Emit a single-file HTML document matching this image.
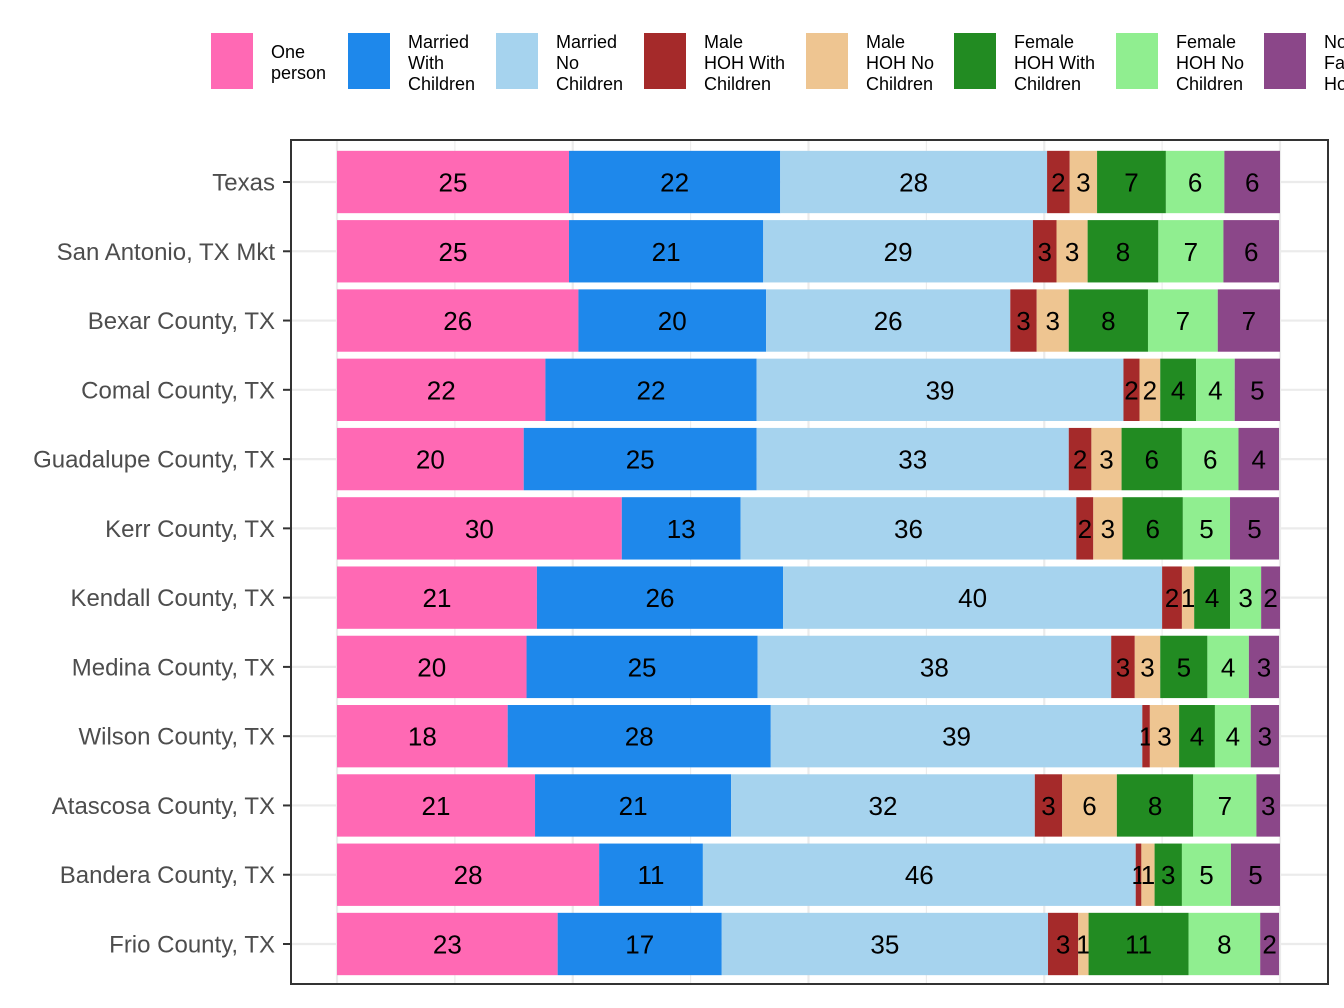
<!DOCTYPE html>
<html><head><meta charset="utf-8"><style>
body{margin:0;background:#fff;}
svg{display:block;font-family:"Liberation Sans",Arial,sans-serif;}
</style></head><body>
<svg id="chart" width="1344" height="1008" viewBox="0 0 1344 1008">
<g id="legend"></g>
<rect x="291" y="140" width="1037" height="844" fill="#fff"/>
<g id="grid"></g>
<g id="bars"></g>
<g id="yaxis"></g>
<rect x="291" y="140" width="1037" height="844" fill="none" stroke="#333" stroke-width="2"/>
</svg>
<script>
const categories = ["Texas","San Antonio, TX Mkt","Bexar County, TX","Comal County, TX","Guadalupe County, TX","Kerr County, TX","Kendall County, TX","Medina County, TX","Wilson County, TX","Atascosa County, TX","Bandera County, TX","Frio County, TX"];
const seriesNames = ["One person","Married With Children","Married No Children","Male HOH With Children","Male HOH No Children","Female HOH With Children","Female HOH No Children","Non Family Households"];
const legendLines = [["One","person"],["Married","With","Children"],["Married","No","Children"],["Male","HOH With","Children"],["Male","HOH No","Children"],["Female","HOH With","Children"],["Female","HOH No","Children"],["Non","Family","Households"]];
const colors = ["#FF69B4","#1E88EB","#A6D3EE","#A52A2A","#EEC591","#228B22","#90EE90","#8B4789"];
const onePerson   = [24.6,24.6,25.6,22.1,19.8,30.2,21.2,20.1,18.1,21.0,27.8,23.4];
const marriedWith = [22.4,20.6,19.9,22.4,24.7,12.6,26.1,24.5,27.9,20.8,11.0,17.4];
const marriedNo   = [28.3,28.6,25.9,38.9,33.1,35.6,40.2,37.5,39.4,32.2,45.9,34.6];
const maleWith    = [2.4,2.5,2.8,1.7,2.4,1.8,2.1,2.5,0.8,2.9,0.6,3.2];
const maleNo      = [2.9,3.3,3.4,2.2,3.2,3.1,1.3,2.7,3.1,5.8,1.4,1.1];
const femaleWith  = [7.3,7.5,8.4,3.8,6.4,6.4,3.8,5.0,3.8,8.1,2.9,10.6];
const femaleNo    = [6.2,6.9,7.4,4.1,6.0,5.0,3.3,4.4,3.8,6.7,5.2,7.6];
const nonFamily   = [5.9,5.9,6.6,4.8,4.3,5.2,2.0,3.2,3.0,2.5,5.2,2.0];
const series = [onePerson,marriedWith,marriedNo,maleWith,maleNo,femaleWith,femaleNo,nonFamily];
const xTicks = [0,12.5,25,37.5,50,62.5,75,87.5,100];

const NS="http://www.w3.org/2000/svg";
function mk(tag,attrs,parent){const e=document.createElementNS(NS,tag);for(const k in attrs)e.setAttribute(k,attrs[k]);parent.appendChild(e);return e;}
const x0=337,x1=1280;
function xScale(v){return x0+(x1-x0)*v/100;}
const band=(944-182)/11;
function yScale(i){return 182+i*band;}
const barH=band*0.9;

const grid=document.getElementById('grid');
xTicks.forEach(t=>{const l=mk('line',{x1:xScale(t),x2:xScale(t),y1:140,y2:984,stroke:'#ebebeb','stroke-width':t%25===0?2.2:1.1},grid);

});
categories.forEach((c,i)=>{const l=mk('line',{x1:291,x2:1328,y1:yScale(i),y2:yScale(i),stroke:'#ebebeb','stroke-width':2.2},grid);

});

const bars=document.getElementById('bars');
categories.forEach((c,i)=>{
  let cum=0;
  series.forEach((s,j)=>{
    const v=s[i];const xa=xScale(cum),xb=xScale(cum+v);cum+=v;
    const r=mk('rect',{x:xa,y:yScale(i)-barH/2,width:xb-xa,height:barH,fill:colors[j]},bars);
    
    
    const t=mk('text',{x:(xa+xb)/2,y:yScale(i)+9.5,'text-anchor':'middle','font-size':26,fill:'#000'},bars);
    t.textContent=Math.round(v);
    
    
  });
});

const ya=document.getElementById('yaxis');
categories.forEach((c,i)=>{
  const tk=mk('line',{x1:283,x2:291,y1:yScale(i),y2:yScale(i),stroke:'#333','stroke-width':2},ya);
  
  
  const t=mk('text',{x:275,y:yScale(i)+8.5,'text-anchor':'end','font-size':24,fill:'#4d4d4d'},ya);
  t.textContent=c;
  
  
});

const lg=document.getElementById('legend');
const keyX=[211,348,496,644,806,954,1116,1264];
seriesNames.forEach((n,j)=>{
  const g=mk('g',{},lg);
  
  
  mk('rect',{x:keyX[j],y:33,width:42,height:56,fill:colors[j]},g);
  const lines=legendLines[j];
  const startY=lines.length===2?58:48;
  lines.forEach((ln,k)=>{
    const t=mk('text',{x:keyX[j]+60,y:startY+k*21,'font-size':18,fill:'#000'},g);
    t.textContent=ln;
  });
});
</script>
</body></html>
